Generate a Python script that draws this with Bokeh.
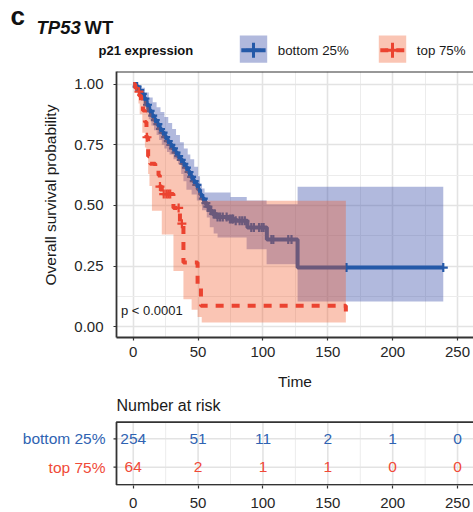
import numpy as np
from bokeh.plotting import figure
from bokeh.models import Range1d, FixedTicker, Label, Span, NumeralTickFormatter, Title
from bokeh.embed import file_html
from bokeh.resources import INLINE

FONT = "Liberation Sans"
BLUE = "#2459A8"
RED = "#EB4330"
BLUE_TXT = "#2F63B2"
RED_TXT = "#F04A38"
BLUE_FILL = "#3C50AA"
RED_FILL = "#F05A28"
DARK = "#333333"

# ---------------- data ----------------
groups = ["bottom 25%", "top 75%"]

# bottom 25% : KM estimate
bottom_t = [0, 2, 4, 6, 8, 10, 12, 14, 16, 18, 20, 22, 24, 26, 28, 30, 32, 34, 36, 38,
            40, 42, 44, 46, 48, 50, 51.5, 53, 55, 57, 59, 61, 64, 74, 78, 88, 103, 126.7]
bottom_s = [1.0, 0.99, 0.975, 0.96, 0.94, 0.915, 0.89, 0.87, 0.852, 0.835, 0.815, 0.80, 0.782,
            0.765, 0.75, 0.735, 0.718, 0.703, 0.688, 0.672, 0.656, 0.638, 0.618, 0.60, 0.585,
            0.565, 0.545, 0.528, 0.51, 0.495, 0.478, 0.465, 0.452, 0.444, 0.437, 0.409, 0.36, 0.244]
bottom_end = 239.0
bottom_hi_t = [0, 3, 6, 9, 12, 15, 18, 21, 24, 27, 30, 33, 36, 39, 42, 44, 47, 50, 51.5, 53,
               55, 75, 87.5, 102.8, 126.7]
bottom_hi = [1.0, 0.995, 0.985, 0.965, 0.945, 0.925, 0.905, 0.885, 0.865, 0.84, 0.815, 0.79,
             0.76, 0.735, 0.71, 0.69, 0.66, 0.62, 0.59, 0.57, 0.553, 0.535, 0.52, 0.505, 0.577]
bottom_lo_t = [0, 2, 4, 6, 8, 10, 12, 14, 16, 18, 20, 22, 24, 26, 28, 31, 34.6, 37, 38.7, 41,
               45, 49, 53, 56.7, 59, 62, 65, 87.4, 102.8, 126.7]
bottom_lo = [1.0, 0.975, 0.955, 0.93, 0.905, 0.88, 0.855, 0.83, 0.81, 0.79, 0.77, 0.75, 0.735,
             0.72, 0.71, 0.69, 0.67, 0.63, 0.60, 0.565, 0.545, 0.52, 0.48, 0.45, 0.41, 0.385,
             0.368, 0.32, 0.258, 0.104]
bottom_censor = [3, 5, 7, 9, 11, 13, 15, 17, 19, 21, 23, 25, 27, 29, 31, 33, 35, 37, 39, 41,
                 43, 45, 47, 49, 54, 56, 57.5, 60, 62, 63, 65, 67, 69, 72, 74.5, 76, 77, 79,
                 82, 84, 86, 91, 93, 97, 99, 100.5, 106.5, 108, 119.5, 122, 164.4, 239]

# top 75% : KM estimate
top_t = [0, 1.5, 3, 4.5, 6, 7.5, 9, 10.2, 11.5, 13, 17, 19.5, 20.5, 22, 31, 36, 38.7, 49.6,
         52.2, 163.9]
top_s = [1.0, 0.984, 0.969, 0.953, 0.922, 0.891, 0.844, 0.781, 0.703, 0.672, 0.656, 0.625,
         0.578, 0.547, 0.49, 0.425, 0.265, 0.16, 0.087, 0.035]
top_end = 163.9
top_hi_t = [0, 2, 4, 6, 8, 10, 12, 14, 16, 18, 20, 22, 24, 26, 28, 30, 32, 34, 36, 38, 40, 42,
            44, 46, 48, 50, 51.5, 53]
top_hi = [1.0, 0.985, 0.965, 0.95, 0.93, 0.905, 0.88, 0.86, 0.84, 0.822, 0.803, 0.788, 0.77,
          0.753, 0.738, 0.722, 0.706, 0.69, 0.675, 0.66, 0.642, 0.622, 0.603, 0.588, 0.572,
          0.552, 0.532, 0.519]
top_lo_t = [0, 2, 4, 5, 7, 9, 10, 11.5, 12.5, 14.4, 22, 31, 38.7, 45, 49.6, 52.8]
top_lo = [1.0, 0.97, 0.92, 0.876, 0.80, 0.739, 0.70, 0.63, 0.58, 0.478, 0.38, 0.23, 0.114,
          0.07, 0.04, 0.018]
top_censor = [4.4, 10.6, 20.6, 23.5, 25.5, 27, 28.5, 35, 37.5]

# risk table
risk_times = [0, 50, 100, 150, 200, 250]
risk_bottom = [254, 51, 11, 2, 1, 0]
risk_top = [64, 2, 1, 1, 0, 0]
risk_rows = [2, 1]

x_ticks = [0, 50, 100, 150, 200, 250]
x_minor = [25, 75, 125, 175, 225]
y_ticks = [0, 0.25, 0.5, 0.75, 1.0]
y_minor = [0.125, 0.375, 0.625, 0.875]
pvalue_text = "p < 0.0001"

# panel extents (data units of the time axis / survival axis)
X0, X1 = -12.9, 262.3
Y0, Y1 = -0.044, 1.052
PX_PER_T = 357 / (X1 - X0)


# ---------------- helpers ----------------
def step_at(t, s, u):
    t = np.asarray(t, float)
    s = np.asarray(s, float)
    idx = np.searchsorted(t, np.asarray(u, float), side="right") - 1
    return s[np.clip(idx, 0, None)]


def step_line(t, s, end):
    t = np.asarray(t, float)
    s = np.asarray(s, float)
    nxt = np.append(t[1:], end)
    return np.ravel(np.column_stack([t, nxt])), np.repeat(s, 2)


def step_band(tl, sl, tu, su, end):
    u = np.unique(np.concatenate([np.asarray(tl, float), np.asarray(tu, float)]))
    u = u[u < end]
    lo = step_at(tl, sl, u)
    hi = step_at(tu, su, u)
    nxt = np.append(u[1:], end)
    return np.ravel(np.column_stack([u, nxt])), np.repeat(lo, 2), np.repeat(hi, 2)


def style_axis(ax, size="15px"):
    ax.axis_line_color = DARK
    ax.axis_line_width = 1.8
    ax.major_tick_line_color = DARK
    ax.major_tick_line_width = 1.2
    ax.major_tick_out = 3
    ax.major_tick_in = 0
    ax.minor_tick_line_color = None
    ax.major_label_text_font = FONT
    ax.major_label_text_font_size = size
    ax.major_label_text_color = "#262626"


def style_grid(g):
    g.grid_line_color = "#E3E3E3"
    g.grid_line_width = 1.6
    g.minor_grid_line_color = "#ECECEC"
    g.minor_grid_line_width = 1.0


# ---------------- header ----------------
h = figure(width=473, height=70, x_range=Range1d(0, 473), y_range=Range1d(70, 0),
           x_axis_type=None, y_axis_type=None, min_border=0, output_backend="svg",
           toolbar_location=None)
h.outline_line_color = None
h.add_layout(Label(x=10, y=15.5, text="c", text_font=FONT, text_font_style="bold",
                   text_font_size="26px", text_baseline="middle", text_color="#111111"))
h.add_layout(Label(x=36, y=27, text="TP53", text_font=FONT, text_font_style="bold italic",
                   text_font_size="18.5px", text_baseline="middle", text_color="#111111"))
h.add_layout(Label(x=84, y=27, text="WT", text_font=FONT, text_font_style="bold",
                   text_font_size="18.5px", text_baseline="middle", text_color="#111111"))
h.add_layout(Label(x=98, y=50.2, text="p21 expression", text_font=FONT, text_font_style="bold",
                   text_font_size="13px", text_baseline="middle", text_color="#111111"))
key_specs = [(239.3, BLUE, BLUE_FILL, 0.4, "solid", groups[0]),
             (378.3, RED, RED_FILL, 0.35, "8 8", groups[1])]
for kx, lc, fc, fa, dash, name in key_specs:
    h.quad(left=[kx], right=[kx + 27.4], top=[35], bottom=[62.3], fill_color=fc,
           fill_alpha=fa, line_color=None)
    h.line([kx + 1.5, kx + 25.8], [49.7, 49.7], line_color=lc, line_width=4, line_dash=dash)
    h.scatter([kx + 13.7], [49.7], marker="cross", size=15, line_color=lc, line_width=3)
    h.add_layout(Label(x=kx + 38, y=50.2, text=name, text_font=FONT, text_font_size="13.3px",
                       text_baseline="middle", text_color="#1a1a1a"))

# ---------------- main plot ----------------
p = figure(width=473, height=325, x_range=Range1d(X0, X1), y_range=Range1d(Y0, Y1),
           output_backend="svg", toolbar_location=None, min_border_left=116,
           min_border_right=0, min_border_top=1, min_border_bottom=58)
p.outline_line_color = None
p.xaxis.ticker = FixedTicker(ticks=x_ticks, minor_ticks=x_minor)
p.yaxis.ticker = FixedTicker(ticks=y_ticks, minor_ticks=y_minor)
p.yaxis.formatter = NumeralTickFormatter(format="0.00")
style_axis(p.xaxis[0])
style_axis(p.yaxis[0])
p.xaxis.major_label_standoff = 5
p.yaxis.major_label_standoff = 9
p.xaxis.axis_label = "Time"
p.xaxis.axis_label_text_font = FONT
p.xaxis.axis_label_text_font_size = "15.5px"
p.xaxis.axis_label_text_font_style = "normal"
p.xaxis.axis_label_text_color = "#1a1a1a"
p.xaxis.axis_label_standoff = 13
style_grid(p.xgrid[0])
style_grid(p.ygrid[0])
p.add_layout(Span(location=Y1, dimension="width", line_color=DARK, line_width=1.8))
p.add_layout(Title(text="Overall survival probability", align="left", offset=52, standoff=26,
                   vertical_align="bottom", text_font=FONT, text_font_size="15.5px",
                   text_font_style="normal", text_color="#1a1a1a"), "left")

bx, blo, bhi = step_band(bottom_lo_t, bottom_lo, bottom_hi_t, bottom_hi, bottom_end)
p.varea(x=bx, y1=blo, y2=bhi, fill_color=BLUE_FILL, fill_alpha=0.4)
lx, ly = step_line(bottom_t, bottom_s, bottom_end)
p.line(lx, ly, line_color=BLUE, line_width=4)
p.scatter(bottom_censor, step_at(bottom_t, bottom_s, bottom_censor), marker="cross", size=9,
          line_color=BLUE, line_width=2.2)

rx, rlo, rhi = step_band(top_lo_t, top_lo, top_hi_t, top_hi, top_end)
p.varea(x=rx, y1=rlo, y2=rhi, fill_color=RED_FILL, fill_alpha=0.35)
lx2, ly2 = step_line(top_t, top_s, top_end)
p.line(lx2, ly2, line_color=RED, line_width=4, line_dash="8 8")
p.scatter(top_censor, step_at(top_t, top_s, top_censor), marker="cross", size=9,
          line_color=RED, line_width=2.2)

p.add_layout(Label(x=-9.5, y=0.066, text=pvalue_text, text_font=FONT, text_font_size="13px",
                   text_baseline="middle", text_color="#1a1a1a"))

# ---------------- risk table ----------------
RX0 = X0 - 116 / PX_PER_T          # left edge of canvas in time units
BOX_B, BOX_T = 0.38, 2.585         # table box (row units)
r = figure(width=473, height=117, x_range=Range1d(RX0, X1), y_range=Range1d(0.356, 3.525),
           output_backend="svg", toolbar_location=None, y_axis_type=None,
           min_border_left=0, min_border_right=0, min_border_top=0, min_border_bottom=27)
r.outline_line_color = None
r.xgrid.visible = False
r.xaxis.ticker = FixedTicker(ticks=x_ticks, minor_ticks=[])
style_axis(r.xaxis[0])
r.xaxis.axis_line_color = None
r.xaxis.major_label_standoff = 9

# grid inside the table box
r.segment(x0=x_minor, y0=[BOX_B] * len(x_minor), x1=x_minor, y1=[BOX_T] * len(x_minor),
          line_color="#ECECEC", line_width=1.0)
r.segment(x0=x_ticks, y0=[BOX_B] * len(x_ticks), x1=x_ticks, y1=[BOX_T] * len(x_ticks),
          line_color="#E3E3E3", line_width=1.6)
r.segment(x0=[X0] * 2, y0=risk_rows, x1=[X1] * 2, y1=risk_rows, line_color="#E3E3E3",
          line_width=1.6)
# box outline and row ticks
r.line([X1, X0, X0, X1], [BOX_T, BOX_T, BOX_B, BOX_B], line_color=DARK, line_width=1.8)
r.segment(x0=[X0] * 2, y0=risk_rows, x1=[X0 - 3 / PX_PER_T] * 2, y1=risk_rows,
          line_color=DARK, line_width=1.2)

r.text(x=risk_times, y=[risk_rows[0]] * len(risk_times), text=[str(v) for v in risk_bottom],
       text_color=BLUE_TXT, text_align="center", text_baseline="middle",
       text_font={"value": FONT}, text_font_size="15.5px")
r.text(x=risk_times, y=[risk_rows[1]] * len(risk_times), text=[str(v) for v in risk_top],
       text_color=RED_TXT, text_align="center", text_baseline="middle",
       text_font={"value": FONT}, text_font_size="15.5px")
r.text(x=[X0, X0], y=risk_rows, text=groups, x_offset=-11, text_align="right",
       text_baseline="middle", text_color=[BLUE_TXT, RED_TXT], text_font={"value": FONT},
       text_font_size="15.5px")
r.add_layout(Label(x=X0, y=3.173, text="Number at risk", text_align="left",
                   text_baseline="middle", text_font=FONT, text_font_size="16px",
                   text_color="#1a1a1a"))

open("out.html", "w").write(file_html([h, p, r], INLINE))
